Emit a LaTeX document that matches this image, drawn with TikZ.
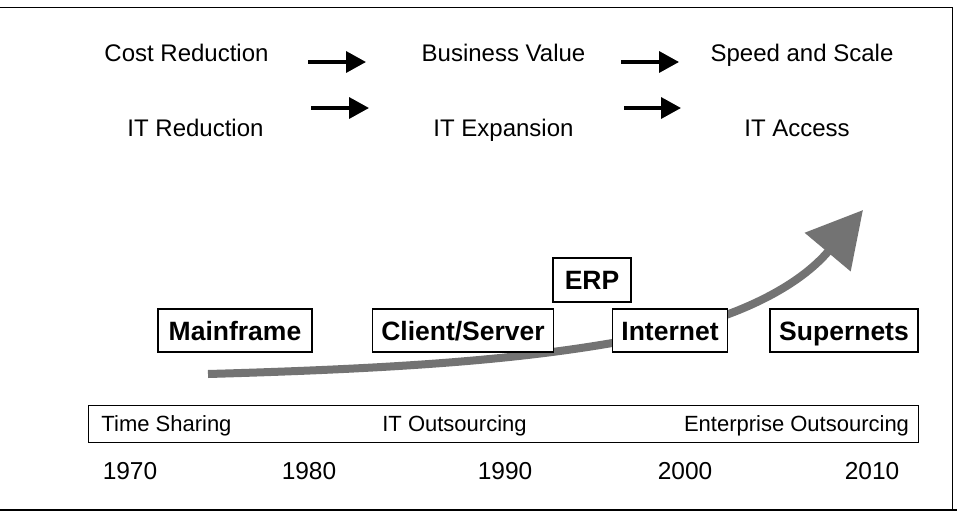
\documentclass[tikz,border=0pt]{standalone}
\usepackage{fontspec}
\setmainfont{Liberation Sans}
\usetikzlibrary{arrows.meta,positioning}

\begin{document}
\begin{tikzpicture}[x=1pt, y=-1pt,
    phrase/.style={anchor=base, font=\fontsize{24}{28}\selectfont},
    era/.style={draw, fill=white, line width=1.1pt, inner xsep=8.5pt, inner ysep=0pt, minimum height=43pt, text height=24pt, text depth=5pt, font=\fontsize{26.5}{30}\selectfont\bfseries},
    year/.style={anchor=base, font=\fontsize{24.5}{28}\selectfont},
    band/.style={anchor=base, font=\fontsize{22}{26}\selectfont},
    stepto/.style={-{Triangle[length=20pt,width=21pt]}, line width=3.5pt},
    trend/.style={-{Triangle[length=55pt,width=58pt]}, line width=8pt, black!55}
]
\useasboundingbox (0,0) rectangle (957,525);

% Frame
\draw[line width=1pt] (0,7) -- (952,7) -- (952,510);
\draw[line width=2.5pt] (0,510) -- (957,510);

% Goals (top row) and IT role (second row)
\node[phrase] (CostRed) at (186.5,61) {Cost Reduction};
\node[phrase] (BizValue) at (503.5,61) {Business Value};
\node[phrase] (SpeedScale) at (802,61) {Speed and Scale};
\node[phrase] (ITRed) at (195.5,136) {IT Reduction};
\node[phrase] (ITExp) at (503.5,136) {IT Expansion};
\node[phrase] (ITAcc) at (797,136) {IT Access};

% Step arrows
\coordinate (g1) at (308,62);  \coordinate (g2) at (366,62);
\coordinate (g3) at (621,62);  \coordinate (g4) at (679,62);
\coordinate (r1) at (311,108); \coordinate (r2) at (369,108);
\coordinate (r3) at (624,108); \coordinate (r4) at (681,108);
\draw[stepto] (g1) -- (g2);
\draw[stepto] (g3) -- (g4);
\draw[stepto] (r1) -- (r2);
\draw[stepto] (r3) -- (r4);

% Trend swoosh (behind the boxes)
\coordinate (TrendStart) at (208,374);
\coordinate (TrendBend) at (650,336);
\coordinate (TrendTip) at (863,210);
\draw[trend] (TrendStart) .. controls (420,368) and (540,358) .. (TrendBend)
  .. controls (740,318) and (800,285) .. (TrendTip);

% Computing eras
\node[era, minimum width=154pt] (Mainframe) at (235,330.5) {Mainframe};
\node[era, minimum width=180pt] (ClientServer) at (463,330.5) {Client/Server};
\node[era, minimum width=78pt, minimum height=44pt] (ERP) at (592,280) {ERP};
\node[era, minimum width=114pt] (Internet) at (670,330.5) {Internet};
\node[era, minimum width=148pt] (Supernets) at (844,330.5) {Supernets};

% Outsourcing band
\node[draw, line width=1pt, minimum width=830pt, minimum height=37pt] (Band) at (503,423.5) {};
\node[band] (TimeSharing) at (166.5,431) {Time Sharing};
\node[band] (ITOut) at (454.5,431) {IT Outsourcing};
\node[band] (EntOut) at (796.5,431) {Enterprise Outsourcing};

% Years
\node[year] (y1970) at (130,479) {1970};
\node[year] (y1980) at (309,479) {1980};
\node[year] (y1990) at (505,479) {1990};
\node[year] (y2000) at (685,479) {2000};
\node[year] (y2010) at (872,479) {2010};

\end{tikzpicture}
\end{document}
